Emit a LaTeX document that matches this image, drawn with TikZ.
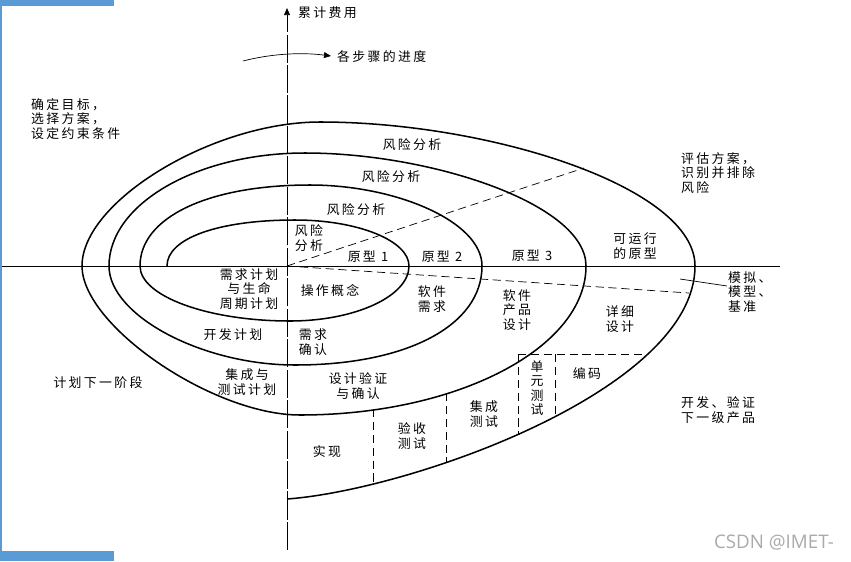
\documentclass[tikz,border=0pt]{standalone}
\usepackage{fontspec}
\setmainfont{Noto Sans CJK SC}[LetterSpace=18]
\newfontfamily\markfont{Open Sans}
\usepackage{tikz}
\usetikzlibrary{arrows.meta}
\definecolor{barblue}{RGB}{91,155,213}
\definecolor{markgray}{RGB}{170,170,170}
\tikzset{
  spiral line/.style={
    line width=1.3pt,
    line join=round
  },
  axis line/.style={
    line width=0.6pt
  },
  axis dash/.style={
    axis line,
    dash pattern=on 24pt off 2pt
  },
  phase dash/.style={
    line width=0.6pt,
    dash pattern=on 7pt off 4pt
  },
  tip/.style={
    -{Triangle[length=6pt,width=5pt]}
  },
  lbl/.style={
    inner sep=0pt,
    align=center,
    font=\fontsize{11}{12.4}\selectfont
  },
  lbl left/.style={
    lbl,
    align=left,
    anchor=west
  }
}

\begin{document}
\begin{tikzpicture}[x=0.03cm, y=-0.03cm]
  \useasboundingbox (0,0) rectangle (851,561);

  % Frame bars
  \fill[barblue] (0,0) rectangle (114,6);
  \fill[barblue] (0,0) rectangle (2,561);
  \fill[barblue] (0,551) rectangle (114,561);

  % Axes
  \coordinate (O) at (287,266);
  \coordinate (ybot) at (287,550);
  \coordinate (ytop) at (287,8);
  \coordinate (xleft) at (2,266);
  \coordinate (xright) at (780,266);
  \draw[axis dash, tip] (ybot) -- (ytop);
  \draw[axis line] (xleft) -- (xright);
  \node[lbl, anchor=west] (cost) at (298,13) {累计费用};

  % Progress arrow
  \coordinate (pstart) at (243,61);
  \coordinate (pend) at (331,56);
  \draw[axis line, tip] (pstart) .. controls (270,54) and (300,52) .. (pend);
  \node[lbl, anchor=west] (progress) at (337,57) {各步骤的进度};

  % Spiral, one quarter turn per segment
  \draw[spiral line] (167,266)
    .. controls (167,238.4) and (218,220) .. (295,220)
    .. controls (358,220) and (409,240.7) .. (409,266)
    .. controls (409,296) and (355.5,321) .. (290,321)
    .. controls (207.5,321) and (140,296) .. (140,266)
    .. controls (140,217.4) and (208,185) .. (310,185)
    .. controls (396,185) and (482,221.5) .. (482,266)
    .. controls (482,325.4) and (407.2,365) .. (295,365)
    .. controls (202,365) and (109,315.5) .. (109,266)
    .. controls (109,203.9) and (197.2,153) .. (305,153)
    .. controls (431,153) and (586,204) .. (586,266)
    .. controls (586,348) and (457.3,415) .. (300,415)
    .. controls (212.8,415) and (82,325.6) .. (82,266)
    .. controls (82,201.2) and (212.9,122) .. (320,122)
    .. controls (489,122) and (695,187) .. (695,266)
    .. controls (695,390) and (410,490) .. (287,499);

  % Phase lines
  \draw[phase dash] (O) -- (584,168);
  \draw[phase dash] (O) -- (689,293);
  \draw[axis line] (680,279) -- (727,286);
  \draw[phase dash] (373,409) -- (373,484);
  \draw[phase dash] (446,393) -- (446,463);
  \draw[phase dash] (518,354) -- (518,434);
  \draw[phase dash] (555,354) -- (555,416);
  \draw[phase dash] (518,354) -- (647,354);

  % Quadrant texts
  \node[lbl left] (goals) at (31,119) {确定目标，\\选择方案，\\设定约束条件};
  \node[lbl left] (evaluate) at (681,173) {评估方案，\\识别并排除\\风险};
  \node[lbl left] (develop) at (681,410) {开发、验证\\下一级产品};
  \node[lbl] (nextplan) at (98,383) {计划下一阶段};
  \node[lbl left] (models) at (728,292) {模拟、\\模型、\\基准};

  % Risk analysis and prototypes
  \node[lbl] (risk4) at (412,145) {风险分析};
  \node[lbl] (risk3) at (391,177) {风险分析};
  \node[lbl] (risk2) at (356,210) {风险分析};
  \node[lbl] (risk1) at (309,238) {风险\\分析};
  \node[lbl] (proto1) at (368,257) {原型 1};
  \node[lbl] (proto2) at (442,257) {原型 2};
  \node[lbl] (proto3) at (532,256) {原型 3};
  \node[lbl] (protorun) at (635,246) {可运行\\的原型};

  % Planning
  \node[lbl] (reqplan) at (249,289) {需求计划\\与生命\\周期计划};
  \node[lbl] (devplan) at (233,335) {开发计划};
  \node[lbl] (intplan) at (247,382) {集成与\\测试计划};

  % Development
  \node[lbl] (concept) at (330,291) {操作概念};
  \node[lbl] (swreq) at (432,299) {软件\\需求};
  \node[lbl] (reqval) at (313,342) {需求\\确认};
  \node[lbl] (prodesign) at (517,310) {软件\\产品\\设计};
  \node[lbl] (designval) at (358,386) {设计验证\\与确认};
  \node[lbl] (detail) at (620,319) {详细\\设计};
  \node[lbl] (coding) at (587,374) {编码};
  \node[lbl] (unittest) at (537,388) {单\\元\\测\\试};
  \node[lbl] (inttest) at (484,414) {集成\\测试};
  \node[lbl] (acctest) at (412,436) {验收\\测试};
  \node[lbl] (impl) at (327,452) {实现};

  \node[inner sep=0pt, text=markgray, font=\markfont\fontsize{16}{18}\selectfont] (mark) at (774,543) {CSDN @IMET-};
\end{tikzpicture}
\end{document}
